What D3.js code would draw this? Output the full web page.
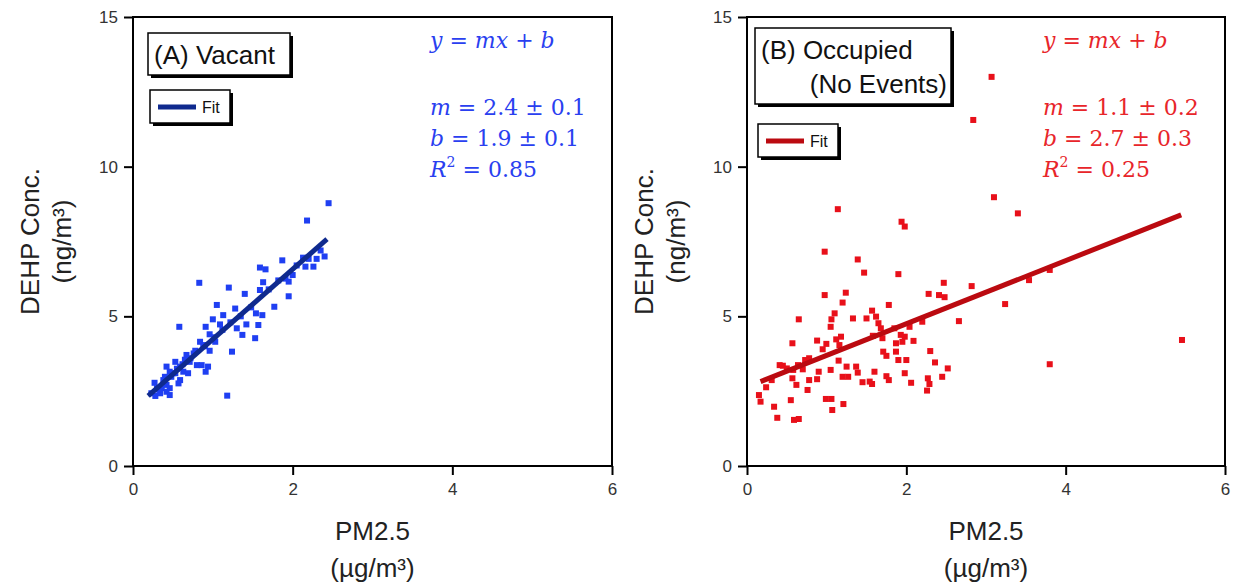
<!DOCTYPE html>
<html>
<head>
<meta charset="utf-8">
<script src="https://cdn.jsdelivr.net/npm/d3@7"></script>
<style>
  body { margin: 0; background: #fff; }
  svg text { font-family: "Liberation Sans", Arial, sans-serif; }
  svg .math text { font-family: "DejaVu Serif", "Liberation Serif", serif; }
</style>
</head>
<body>
<svg id="chart" width="1233" height="584"></svg>
<script>
// ---- data ----
let xTicks = [0, 2, 4, 6]
let yTicks = [0, 5, 10, 15]

// (A) Vacant: PM2.5 (ug/m3) vs DEHP (ng/m3)
let vacantPM = [2.45, 2.18, 0.83, 1.59, 1.66, 1.87, 2.13, 2.2, 2.3, 2.16, 2.26, 1.2, 1.63, 1.59, 1.4,
  1.91, 2.0, 1.95, 1.95, 1.77, 1.05, 1.28, 1.54, 1.62, 1.13, 1.0, 1.42, 1.57, 1.09, 0.91, 0.58,
  1.3, 1.37, 1.53, 0.96, 0.84, 0.88, 1.03, 0.96, 1.24, 0.76, 0.67, 0.71, 0.8, 0.86, 0.94, 0.91,
  0.53, 0.59, 0.42, 0.46, 0.53, 0.63, 0.69, 0.48, 0.59, 0.57, 0.4, 0.38, 0.42, 0.46, 0.36, 0.27,
  0.3, 0.23, 0.28, 0.34, 0.42, 0.46, 1.18, 0.5, 0.62, 0.72, 0.78, 0.9, 1.02, 1.12, 1.22, 1.35,
  1.48, 1.7, 1.82, 2.05, 2.35, 2.4, 0.32, 0.55, 0.65]
let vacantDEHP = [8.78, 8.2, 6.12, 6.63, 6.57, 6.87, 6.96, 6.92, 6.92, 6.66, 6.66, 5.96, 6.14, 5.88, 5.75,
  6.26, 6.38, 6.16, 5.67, 5.32, 5.38, 5.26, 5.1, 5.04, 5.04, 4.9, 4.73, 4.71, 4.73, 4.65, 4.65,
  4.6, 4.38, 4.27, 4.4, 4.15, 4.04, 4.15, 3.85, 3.82, 3.76, 3.71, 3.48, 3.37, 3.37, 3.32, 3.15,
  3.48, 3.32, 3.32, 3.15, 3.1, 3.15, 3.1, 2.98, 2.87, 2.76, 2.98, 2.87, 2.71, 2.6, 2.6, 2.78,
  2.6, 2.43, 2.34, 2.43, 2.48, 2.37, 2.35, 3.1, 3.4, 3.6, 3.85, 4.0, 4.3, 4.55, 4.8, 5.0,
  5.3, 5.9, 6.2, 6.7, 7.2, 7.0, 2.55, 3.25, 3.55]
let vacantFitPM = [0.19, 2.43]
let vacantFitDEHP = [2.34, 7.58]

// (B) Occupied (No Events)
let occupiedPM = [1.14, 3.1, 1.94, 1.98, 0.975, 1.39, 1.47, 1.9, 0.975, 1.24, 1.2, 1.78, 2.47, 2.28, 2.41,
  2.48, 2.82, 2.66, 0.65, 1.1, 1.06, 1.05, 1.33, 1.5, 1.57, 1.62, 1.65, 1.68, 0.57, 0.88, 0.996,
  1.12, 1.18, 1.16, 1.58, 1.7, 1.85, 1.93, 1.98, 2.04, 2.2, 1.87, 1.95, 2.09, 1.71, 1.75, 1.87,
  1.9, 2.0, 2.3, 2.36, 2.52, 1.98, 2.06, 2.27, 2.29, 2.26, 2.45, 1.75, 1.78, 1.6, 1.45, 1.54,
  1.57, 1.37, 1.39, 1.25, 1.2, 1.27, 1.15, 1.05, 0.9, 0.88, 0.78, 0.76, 0.73, 0.78, 0.64, 0.7,
  0.41, 0.5, 0.58, 0.57, 0.62, 0.31, 0.24, 0.15, 0.17, 0.34, 0.38, 0.55, 0.59, 0.65, 0.99, 1.06,
  1.07, 1.21, 3.07, 3.4, 3.54, 3.8, 3.24, 5.46, 3.8, 2.84, 0.45, 0.95]
let occupiedDEHP = [8.58, 8.98, 8.16, 8.0, 7.16, 6.9, 6.46, 6.41, 5.71, 5.79, 5.46, 5.38, 6.12, 5.75, 5.71,
  5.64, 6.01, 4.84, 4.9, 5.1, 4.9, 4.65, 4.93, 4.93, 5.19, 4.99, 4.77, 4.6, 4.1, 4.19, 4.08,
  4.23, 4.32, 4.04, 4.35, 4.27, 4.6, 4.38, 4.32, 4.65, 4.82, 4.1, 4.15, 4.18, 3.82, 3.68, 3.82,
  3.54, 3.54, 3.84, 3.46, 3.26, 3.1, 2.78, 2.93, 2.74, 2.52, 2.98, 3.0, 2.87, 3.15, 2.8, 2.82,
  2.74, 3.32, 3.12, 3.32, 2.98, 2.98, 3.52, 3.21, 3.15, 2.9, 2.87, 2.54, 3.54, 3.6, 3.37, 3.23,
  3.37, 3.26, 3.21, 2.93, 2.71, 2.87, 2.63, 2.37, 2.15, 1.98, 1.61, 2.2, 1.54, 1.57, 2.24, 2.24,
  1.87, 2.07, 13.0, 8.44, 6.21, 6.55, 5.41, 4.21, 3.4, 11.56, 3.35, 3.9]
let occupiedFitPM = [0.17, 5.45]
let occupiedFitDEHP = [2.82, 8.39]

let panels = [
  {
    left: 133, right: 612,
    pm: vacantPM, dehp: vacantDEHP, fitPM: vacantFitPM, fitDEHP: vacantFitDEHP,
    dot: '#1f3ff2', line: '#0f2a8e', text: '#2a3ff0',
    title: ['(A) Vacant'],
    stats: ['2.4', '0.1', '1.9', '0.1', '0.85']
  },
  {
    left: 747, right: 1225,
    pm: occupiedPM, dehp: occupiedDEHP, fitPM: occupiedFitPM, fitDEHP: occupiedFitDEHP,
    dot: '#e8101a', line: '#bb0a10', text: '#e8252a',
    title: ['(B) Occupied', '(No Events)'],
    stats: ['1.1', '0.2', '2.7', '0.3', '0.25']
  }
]

let plotTop = 17, plotBottom = 466

let svg = d3.select('#chart')

panels.forEach(function (p, i) {
  let x = d3.scaleLinear().domain([0, 6]).range([p.left, p.right])
  let y = d3.scaleLinear().domain([0, 15]).range([plotBottom, plotTop])
  let g = svg.append('g')

  // axes
  g.append('g')
    .attr('transform', 'translate(0,' + plotBottom + ')')
    .call(d3.axisBottom(x).tickValues(xTicks).tickFormat(d3.format('d'))
      .tickSize(9).tickSizeOuter(0).tickPadding(8))
    .call(a => a.select('.domain').remove())
    .call(a => a.selectAll('line').attr('stroke', '#000').attr('stroke-width', 2))
    .call(a => a.selectAll('text').attr('font-size', 17).attr('fill', '#333'))

  g.append('g')
    .attr('transform', 'translate(' + p.left + ',0)')
    .call(d3.axisLeft(y).tickValues(yTicks).tickFormat(d3.format('d'))
      .tickSize(9).tickSizeOuter(0).tickPadding(6))
    .call(a => a.select('.domain').remove())
    .call(a => a.selectAll('line').attr('stroke', '#000').attr('stroke-width', 2))
    .call(a => a.selectAll('text').attr('font-size', 17).attr('fill', '#333'))

  // frame
  g.append('rect')
    .attr('x', x(0)).attr('y', y(15))
    .attr('width', x(6) - x(0)).attr('height', y(0) - y(15))
    .attr('fill', 'none').attr('stroke', '#000').attr('stroke-width', 2)

  // points
  let pts = p.pm.map((v, k) => ({ pm: v, dehp: p.dehp[k] }))
  g.selectAll('.pt')
    .data(pts)
    .enter()
    .append('rect')
    .attr('class', 'pt')
    .attr('x', d => x(d.pm) - 3)
    .attr('y', d => y(d.dehp) - 3)
    .attr('width', 6).attr('height', 6)
    .attr('fill', p.dot)

  // fit line
  g.append('line')
    .attr('x1', x(p.fitPM[0])).attr('y1', y(p.fitDEHP[0]))
    .attr('x2', x(p.fitPM[1])).attr('y2', y(p.fitDEHP[1]))
    .attr('stroke', p.line).attr('stroke-width', 5)

  // axis titles
  let cx = (x(0) + x(6)) / 2
  g.append('text').attr('x', cx).attr('y', 540).attr('text-anchor', 'middle')
    .attr('font-size', 26).attr('fill', '#222').text('PM2.5')
  g.append('text').attr('x', cx).attr('y', 577).attr('text-anchor', 'middle')
    .attr('font-size', 26).attr('fill', '#222').text('(µg/m³)')

  let cy = (y(0) + y(15)) / 2
  g.append('text').attr('transform', 'translate(' + (p.left - 94) + ',' + cy + ') rotate(-90)')
    .attr('text-anchor', 'middle').attr('font-size', 26).attr('fill', '#222').text('DEHP Conc.')
  g.append('text').attr('transform', 'translate(' + (p.left - 62) + ',' + cy + ') rotate(-90)')
    .attr('text-anchor', 'middle').attr('font-size', 26).attr('fill', '#222').text('(ng/m³)')

  // title box
  let bx = p.left + (i === 0 ? 15 : 8)
  let by = i === 0 ? 33 : 28
  let bw = i === 0 ? 142 : 196
  let bh = i === 0 ? 42 : 76
  g.append('rect').attr('x', bx + 3).attr('y', by + 3).attr('width', bw).attr('height', bh).attr('fill', '#000')
  g.append('rect').attr('x', bx).attr('y', by).attr('width', bw).attr('height', bh)
    .attr('fill', '#fff').attr('stroke', '#000').attr('stroke-width', 1.5)
  p.title.forEach(function (t, k) {
    g.append('text')
      .attr('x', k === 0 ? bx + 6 : bx + bw - 4)
      .attr('y', by + 31 + k * 34)
      .attr('text-anchor', k === 0 ? 'start' : 'end')
      .attr('font-size', 26).attr('fill', '#111').text(t)
  })

  // legend box
  let lx = p.left + (i === 0 ? 17 : 11)
  let ly = i === 0 ? 90 : 124
  g.append('rect').attr('x', lx + 3).attr('y', ly + 3).attr('width', 80).attr('height', 33).attr('fill', '#000')
  g.append('rect').attr('x', lx).attr('y', ly).attr('width', 80).attr('height', 33)
    .attr('fill', '#fff').attr('stroke', '#000').attr('stroke-width', 1.5)
  g.append('line').attr('x1', lx + 8).attr('x2', lx + 46).attr('y1', ly + 17).attr('y2', ly + 17)
    .attr('stroke', p.line).attr('stroke-width', 5)
  g.append('text').attr('x', lx + 52).attr('y', ly + 23).attr('font-size', 16).attr('fill', '#111').text('Fit')

  // fit equation
  let tx = i === 0 ? 430 : 1043
  let eq = g.append('g').attr('class', 'math').attr('fill', p.text).attr('font-size', 22)
  let t0 = eq.append('text').attr('x', tx).attr('y', 48)
  t0.append('tspan').attr('font-style', 'italic').text('y')
  t0.append('tspan').text(' = ')
  t0.append('tspan').attr('font-style', 'italic').text('mx')
  t0.append('tspan').text(' + ')
  t0.append('tspan').attr('font-style', 'italic').text('b')

  let t1 = eq.append('text').attr('x', tx).attr('y', 115)
  t1.append('tspan').attr('font-style', 'italic').text('m')
  t1.append('tspan').text(' = ' + p.stats[0] + ' ± ' + p.stats[1])
  let t2 = eq.append('text').attr('x', tx).attr('y', 146)
  t2.append('tspan').attr('font-style', 'italic').text('b')
  t2.append('tspan').text(' = ' + p.stats[2] + ' ± ' + p.stats[3])
  let t3 = eq.append('text').attr('x', tx).attr('y', 177)
  t3.append('tspan').attr('font-style', 'italic').text('R')
  t3.append('tspan').attr('font-size', 14).attr('dy', -10).text('2')
  t3.append('tspan').attr('dy', 10).text(' = ' + p.stats[4])
})
</script>
</body>
</html>
